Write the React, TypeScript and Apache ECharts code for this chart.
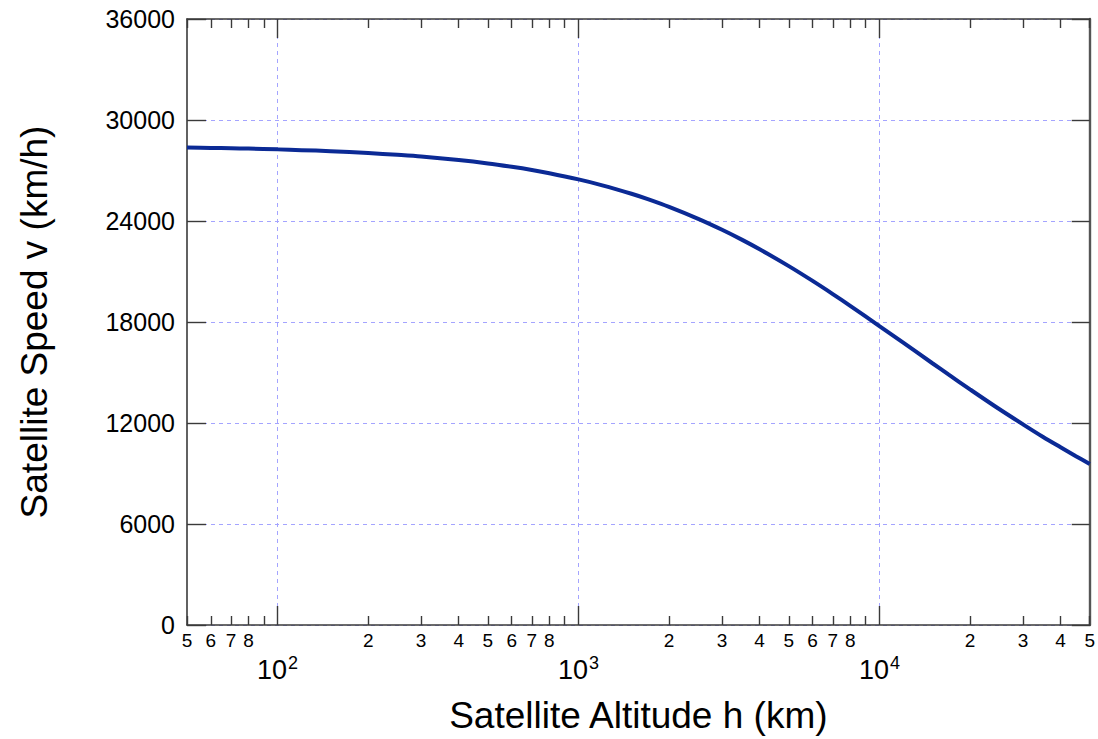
import React, { useEffect, useRef } from "react";
import * as echarts from "echarts";

const altitudeKm = [
  50, 60, 70, 80, 100, 120, 150, 200, 250, 300, 400, 500, 600, 700, 800, 1000,
  1200, 1500, 1700, 2000, 2500, 3000, 3500, 4000, 5000, 6000, 7000, 8000, 10000,
  12000, 15000, 17000, 20000, 25000, 30000, 35000, 40000, 45000, 50000,
];
const speedKmh = [
  28360, 28340, 28320, 28300, 28255, 28210, 28150, 28040, 27930, 27830, 27620,
  27420, 27220, 27030, 26840, 26470, 26120, 25620, 25300, 24840, 24130, 23480,
  22880, 22320, 21320, 20440, 19660, 18960, 17760, 16770, 15550, 14870, 14000,
  12830, 11920, 11170, 10560, 10030, 9570,
];

const majorTicks = [100, 1000, 10000];
const minorTicks = [
  50, 60, 70, 80, 90, 200, 300, 400, 500, 600, 700, 800, 900, 2000, 3000, 4000,
  5000, 6000, 7000, 8000, 9000, 20000, 30000, 40000, 50000,
];
const minorLabels = [
  50, 60, 70, 80, 200, 300, 400, 500, 600, 700, 800, 2000, 3000, 4000, 5000,
  6000, 7000, 8000, 20000, 30000, 40000, 50000,
];
const yTicks = [0, 6000, 12000, 18000, 24000, 30000, 36000];

const FONT = "Liberation Sans, Arial, sans-serif";
const AXIS_COLOR = "#3a3a3a";
const GRID_COLOR = "#a4a4ff";

export default function App() {
  const ref = useRef<HTMLDivElement>(null);
  useEffect(() => {
    if (!ref.current) return;
    const chart = echarts.init(ref.current, undefined, { renderer: "svg" });
    const logBase = {
      type: "log" as const,
      logBase: 10,
      min: 50,
      max: 50000,
      gridIndex: 0,
    };
    chart.setOption({
      animation: false,
      backgroundColor: "#ffffff",
      textStyle: { fontFamily: FONT },
      grid: { left: 187, top: 19, right: 4, bottom: 114, containLabel: false },
      xAxis: [
        {
          ...logBase,
          position: "bottom",
          name: "Satellite Altitude h (km)",
          nameLocation: "middle",
          nameGap: 72,
          nameTextStyle: { fontSize: 37, color: "#000", fontFamily: FONT },
          axisLine: { show: true, lineStyle: { color: AXIS_COLOR, width: 1.6 } },
          axisTick: {
            show: true,
            inside: true,
            length: 9,
            customValues: minorTicks,
            lineStyle: { color: AXIS_COLOR, width: 1.4 },
          },
          axisLabel: {
            show: true,
            customValues: minorLabels,
            margin: 6,
            fontSize: 19,
            color: "#000",
            fontFamily: FONT,
            showMinLabel: true,
            showMaxLabel: true,
            formatter: (v: number) =>
              String(Math.round(v / Math.pow(10, Math.floor(Math.log10(v) + 1e-9)))),
          },
          splitLine: { show: false },
        },
        {
          ...logBase,
          position: "bottom",
          axisLine: { show: false },
          axisTick: {
            show: true,
            inside: true,
            length: 19,
            customValues: majorTicks,
            lineStyle: { color: AXIS_COLOR, width: 1.4 },
          },
          axisLabel: {
            show: true,
            customValues: majorTicks,
            margin: 29,
            color: "#000",
            fontFamily: FONT,
            formatter: (v: number) => `{b|10}{s|${Math.round(Math.log10(v))}}`,
            rich: {
              b: { fontSize: 27, fontFamily: FONT, color: "#000" },
              s: { fontSize: 18, fontFamily: FONT, color: "#000", padding: [0, 0, 13, 1] },
            },
          },
          splitLine: {
            show: true,
            lineStyle: { color: GRID_COLOR, type: [4, 4], width: 1 },
          },
        },
        {
          ...logBase,
          position: "top",
          axisLine: { show: true, lineStyle: { color: AXIS_COLOR, width: 1.6 } },
          axisTick: {
            show: true,
            inside: true,
            length: 9,
            customValues: minorTicks,
            lineStyle: { color: AXIS_COLOR, width: 1.4 },
          },
          axisLabel: { show: false },
          splitLine: { show: false },
        },
        {
          ...logBase,
          position: "top",
          axisLine: { show: false },
          axisTick: {
            show: true,
            inside: true,
            length: 19,
            customValues: majorTicks,
            lineStyle: { color: AXIS_COLOR, width: 1.4 },
          },
          axisLabel: { show: false },
          splitLine: { show: false },
        },
      ],
      yAxis: [
        {
          type: "value",
          position: "left",
          min: 0,
          max: 36000,
          interval: 6000,
          name: "Satellite Speed v (km/h)",
          nameLocation: "middle",
          nameGap: 134,
          nameTextStyle: { fontSize: 37, color: "#000", fontFamily: FONT },
          axisLine: { show: true, lineStyle: { color: AXIS_COLOR, width: 1.6 } },
          axisTick: {
            show: true,
            inside: true,
            length: 19,
            customValues: yTicks,
            lineStyle: { color: AXIS_COLOR, width: 1.4 },
          },
          axisLabel: {
            show: true,
            margin: 12,
            fontSize: 25,
            color: "#000",
            fontFamily: FONT,
            showMinLabel: true,
            showMaxLabel: true,
            formatter: (v: number) => String(v),
          },
          splitLine: {
            show: true,
            lineStyle: { color: GRID_COLOR, type: [4, 4], width: 1 },
          },
        },
        {
          type: "value",
          position: "right",
          min: 0,
          max: 36000,
          interval: 6000,
          axisLine: { show: true, lineStyle: { color: "#555", width: 2.4 } },
          axisTick: {
            show: true,
            inside: true,
            length: 18,
            lineStyle: { color: AXIS_COLOR, width: 1.4 },
          },
          axisLabel: { show: false },
          splitLine: { show: false },
        },
      ],
      series: [
        {
          type: "line",
          xAxisIndex: 0,
          yAxisIndex: 0,
          data: altitudeKm.map((h, i) => [h, speedKmh[i]]),
          showSymbol: false,
          smooth: 0.3,
          lineStyle: { color: "#0b2a95", width: 4 },
          z: 10,
        },
      ],
    });
    return () => chart.dispose();
  }, []);
  return (
    <div
      ref={ref}
      style={{ position: "fixed", left: 0, top: 0, width: 1098, height: 739 }}
    />
  );
}
